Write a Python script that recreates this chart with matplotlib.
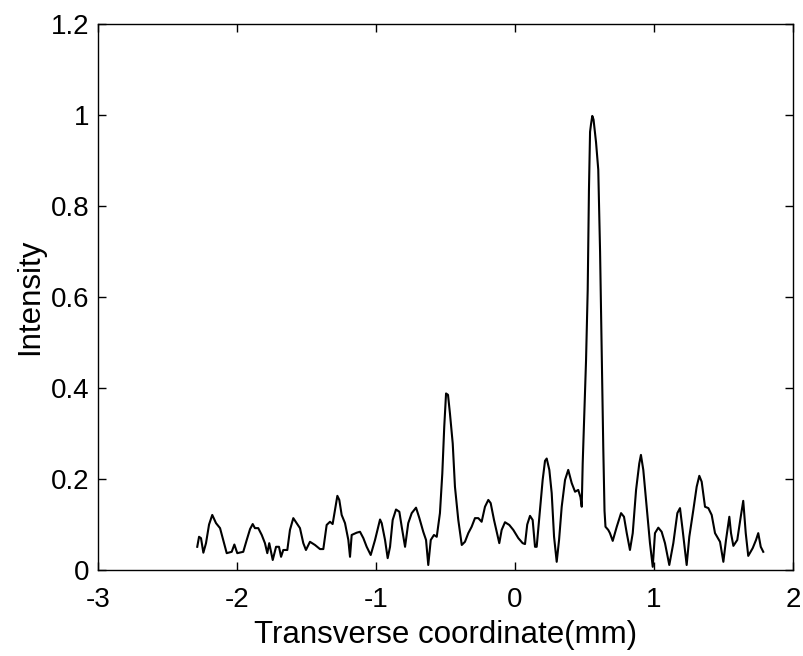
import matplotlib
matplotlib.use("Agg")
import matplotlib.pyplot as plt

x_mm = [-2.286, -2.273, -2.259, -2.242, -2.223, -2.201, -2.178, -2.151, -2.122, -2.099,
        -2.074, -2.038, -2.019, -1.998, -1.955, -1.930, -1.906, -1.887, -1.871, -1.847,
        -1.822, -1.799, -1.782, -1.768, -1.743, -1.719, -1.698, -1.683, -1.667, -1.638,
        -1.619, -1.595, -1.571, -1.547, -1.523, -1.504, -1.475, -1.439, -1.403, -1.379,
        -1.355, -1.331, -1.312, -1.295, -1.278, -1.264, -1.247, -1.223, -1.199, -1.187,
        -1.175, -1.139, -1.115, -1.091, -1.067, -1.038, -1.007, -0.971, -0.959, -0.935,
        -0.916, -0.899, -0.880, -0.856, -0.832, -0.815, -0.791, -0.768, -0.743, -0.712,
        -0.688, -0.660, -0.640, -0.624, -0.606, -0.583, -0.563, -0.540, -0.523, -0.509,
        -0.496, -0.482, -0.468, -0.448, -0.432, -0.408, -0.383, -0.360, -0.336, -0.312,
        -0.288, -0.264, -0.240, -0.216, -0.192, -0.175, -0.151, -0.132, -0.113, -0.096,
        -0.072, -0.041, -0.012, 0.024, 0.055, 0.072, 0.088, 0.108, 0.127, 0.144,
        0.156, 0.175, 0.199, 0.216, 0.228, 0.247, 0.264, 0.281, 0.300, 0.317,
        0.336, 0.360, 0.383, 0.408, 0.432, 0.455, 0.471, 0.480, 0.487, 0.504,
        0.511, 0.523, 0.532, 0.540, 0.547, 0.556, 0.565, 0.576, 0.583, 0.599,
        0.612, 0.624, 0.635, 0.644, 0.651, 0.671, 0.683, 0.703, 0.732, 0.763,
        0.784, 0.804, 0.827, 0.847, 0.871, 0.894, 0.906, 0.923, 0.947, 0.971,
        0.991, 1.007, 1.031, 1.055, 1.079, 1.110, 1.139, 1.168, 1.187, 1.206,
        1.235, 1.254, 1.283, 1.307, 1.326, 1.343, 1.367, 1.391, 1.415, 1.439,
        1.475, 1.499, 1.518, 1.542, 1.554, 1.571, 1.599, 1.624, 1.642, 1.660,
        1.678, 1.710, 1.734, 1.750, 1.768, 1.786]

intensity = [0.051, 0.073, 0.070, 0.038, 0.059, 0.100, 0.121, 0.103, 0.092, 0.066,
             0.037, 0.040, 0.056, 0.037, 0.040, 0.066, 0.090, 0.101, 0.092, 0.092,
             0.077, 0.059, 0.037, 0.059, 0.022, 0.051, 0.051, 0.029, 0.044, 0.044,
             0.088, 0.114, 0.103, 0.092, 0.059, 0.044, 0.062, 0.055, 0.046, 0.046,
             0.099, 0.106, 0.101, 0.132, 0.163, 0.154, 0.121, 0.103, 0.066, 0.029,
             0.077, 0.082, 0.084, 0.070, 0.051, 0.033, 0.066, 0.111, 0.103, 0.066,
             0.026, 0.051, 0.110, 0.133, 0.128, 0.095, 0.051, 0.103, 0.125, 0.137,
             0.114, 0.084, 0.066, 0.011, 0.066, 0.077, 0.073, 0.125, 0.212, 0.315,
             0.388, 0.385, 0.344, 0.278, 0.183, 0.110, 0.055, 0.062, 0.081, 0.095,
             0.114, 0.114, 0.106, 0.139, 0.154, 0.147, 0.110, 0.084, 0.059, 0.088,
             0.105, 0.099, 0.088, 0.070, 0.059, 0.057, 0.100, 0.119, 0.110, 0.051,
             0.051, 0.117, 0.198, 0.240, 0.245, 0.220, 0.169, 0.073, 0.018, 0.066,
             0.139, 0.198, 0.220, 0.191, 0.172, 0.176, 0.160, 0.139, 0.234, 0.389,
             0.460, 0.615, 0.835, 0.963, 0.980, 0.998, 0.990, 0.960, 0.940, 0.880,
             0.700, 0.470, 0.270, 0.130, 0.095, 0.088, 0.081, 0.064, 0.095, 0.125,
             0.117, 0.081, 0.044, 0.081, 0.176, 0.234, 0.253, 0.220, 0.139, 0.059,
             0.007, 0.081, 0.093, 0.084, 0.059, 0.011, 0.059, 0.125, 0.136, 0.088,
             0.011, 0.073, 0.132, 0.183, 0.207, 0.194, 0.139, 0.136, 0.121, 0.081,
             0.062, 0.018, 0.066, 0.117, 0.081, 0.053, 0.066, 0.117, 0.152, 0.081,
             0.031, 0.048, 0.066, 0.081, 0.051, 0.040]

x_ticks = [-3, -2, -1, 0, 1, 2]
x_tick_labels = ["-3", "-2", "-1", "0", "1", "2"]
y_ticks = [0, 0.2, 0.4, 0.6, 0.8, 1.0, 1.2]
y_tick_labels = ["0", "0.2", "0.4", "0.6", "0.8", "1", "1.2"]

plt.rcParams['font.family'] = ['Liberation Sans', 'DejaVu Sans']

fig = plt.figure(figsize=(8.04, 6.56), dpi=100)
ax = fig.add_axes([98/804, 86/656, 695/804, 546/656])
ax.plot(x_mm, intensity, color='black', linewidth=1.5)
ax.set_xlim(-3, 2)
ax.set_ylim(0, 1.2)
ax.set_xticks(x_ticks)
ax.set_xticklabels(x_tick_labels)
ax.set_yticks(y_ticks)
ax.set_yticklabels(y_tick_labels)
ax.tick_params(direction='in', length=6, width=1, top=True, right=True, labelsize=20)
ax.tick_params(axis='x', pad=12)
ax.tick_params(axis='y', pad=6)
for s in ax.spines.values():
    s.set_linewidth(1)
ax.set_xlabel("Transverse coordinate(mm)", fontsize=22.5, labelpad=5)
ax.set_ylabel("Intensity", fontsize=22.5, labelpad=4)
fig.savefig("out.png", dpi=100)
